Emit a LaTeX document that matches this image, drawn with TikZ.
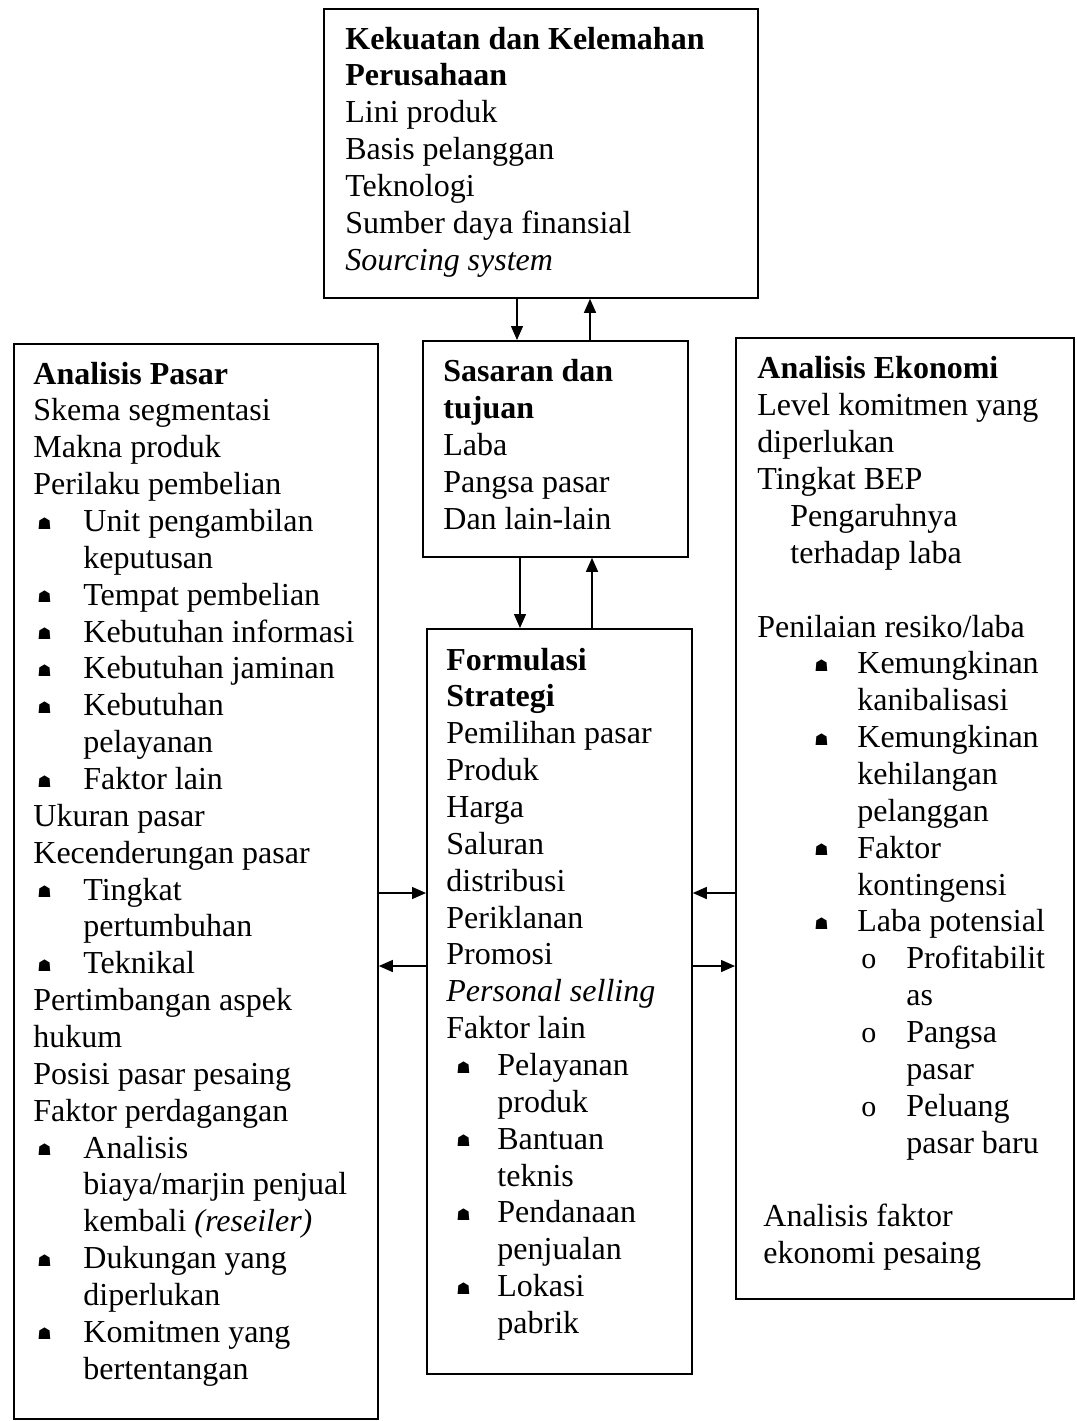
\documentclass[tikz,border=0pt]{standalone}
\usepackage{fontspec}
\setmainfont{Liberation Serif}
\newfontfamily\symfont{DejaVu Sans}
\usetikzlibrary{arrows.meta}
\newcommand\bul{\raisebox{1.2pt}{\symfont\fontsize{8}{8}\selectfont ☗}}
\newcommand\circb{{\fontsize{15}{15}\selectfont o}}
\newcommand\bl[3]{\makebox[#2][l]{\hspace*{#1}\bul}#3}
\newcommand\cl[3]{\makebox[#2][l]{\hspace*{#1}\circb}#3}
\newcommand\ind[2]{\hspace*{#1}#2}
\begin{document}
\begin{tikzpicture}[x=0.5pt,y=-0.5pt,
  box/.style={draw,line width=0.9pt,inner sep=0pt,anchor=north west},
  txt/.style={anchor=base west,inner sep=0pt,align=left,font=\fontsize{16}{18.43}\selectfont},
  arr/.style={line width=0.7pt,-{Triangle[length=7pt,width=6pt]}}]
\useasboundingbox (0,0) rectangle (1077,1421);
% boxes
\node[box,minimum width=217pt,minimum height=144.5pt] (top) at (323,8) {};
\node[box,minimum width=132.5pt,minimum height=108pt] (sas) at (422,340) {};
\node[box,minimum width=132.5pt,minimum height=372.5pt] (form) at (426,628) {};
\node[box,minimum width=182pt,minimum height=537.5pt] (left) at (13,343) {};
\node[box,minimum width=169pt,minimum height=480.5pt] (right) at (735,337) {};
% texts (anchor = baseline of last line)
\node[txt] (topT) at (345,270.2) {\textbf{Kekuatan dan Kelemahan}\\\textbf{Perusahaan}\\Lini produk\\Basis pelanggan\\Teknologi\\Sumber daya finansial\\\textit{Sourcing system}};
\node[txt] (sasT) at (443,529.4) {\textbf{Sasaran dan}\\\textbf{tujuan}\\Laba\\Pangsa pasar\\Dan lain-lain};
\node[txt] (leftT) at (33,1379.2) {\textbf{Analisis Pasar}\\Skema segmentasi\\Makna produk\\Perilaku pembelian\\
\bl{2pt}{25pt}{Unit pengambilan}\\\ind{25pt}{keputusan}\\
\bl{2pt}{25pt}{Tempat pembelian}\\\bl{2pt}{25pt}{Kebutuhan informasi}\\\bl{2pt}{25pt}{Kebutuhan jaminan}\\
\bl{2pt}{25pt}{Kebutuhan}\\\ind{25pt}{pelayanan}\\\bl{2pt}{25pt}{Faktor lain}\\
Ukuran pasar\\Kecenderungan pasar\\\bl{2pt}{25pt}{Tingkat}\\\ind{25pt}{pertumbuhan}\\\bl{2pt}{25pt}{Teknikal}\\
Pertimbangan aspek\\hukum\\Posisi pasar pesaing\\Faktor perdagangan\\
\bl{2pt}{25pt}{Analisis}\\\ind{25pt}{biaya/marjin penjual}\\\ind{25pt}{kembali \textit{(reseiler)}}\\
\bl{2pt}{25pt}{Dukungan yang}\\\ind{25pt}{diperlukan}\\\bl{2pt}{25pt}{Komitmen yang}\\\ind{25pt}{bertentangan}};
\node[txt] (formT) at (446,1333.5) {\textbf{Formulasi}\\\textbf{Strategi}\\Pemilihan pasar\\Produk\\Harga\\Saluran\\distribusi\\Periklanan\\Promosi\\\textit{Personal selling}\\Faktor lain\\
\bl{5pt}{25.5pt}{Pelayanan}\\\ind{25.5pt}{produk}\\\bl{5pt}{25.5pt}{Bantuan}\\\ind{25.5pt}{teknis}\\\bl{5pt}{25.5pt}{Pendanaan}\\\ind{25.5pt}{penjualan}\\\bl{5pt}{25.5pt}{Lokasi}\\\ind{25.5pt}{pabrik}};
\node[txt] (rightT) at (757,1263.6) {\textbf{Analisis Ekonomi}\\Level komitmen yang\\diperlukan\\Tingkat BEP\\\ind{16.5pt}{Pengaruhnya}\\\ind{16.5pt}{terhadap laba}\\[18.43pt]
Penilaian resiko/laba\\\bl{28.5pt}{50pt}{Kemungkinan}\\\ind{50pt}{kanibalisasi}\\\bl{28.5pt}{50pt}{Kemungkinan}\\\ind{50pt}{kehilangan}\\\ind{50pt}{pelanggan}\\
\bl{28.5pt}{50pt}{Faktor}\\\ind{50pt}{kontingensi}\\\bl{28.5pt}{50pt}{Laba potensial}\\
\cl{52pt}{74.5pt}{Profitabilit}\\\ind{74.5pt}{as}\\\cl{52pt}{74.5pt}{Pangsa}\\\ind{74.5pt}{pasar}\\\cl{52pt}{74.5pt}{Peluang}\\\ind{74.5pt}{pasar baru}\\[18.43pt]
\ind{3pt}{Analisis faktor}\\\ind{3pt}{ekonomi pesaing}};
% connector helper coordinates
\coordinate (xa) at (517,0);
\coordinate (xb) at (590,0);
\coordinate (xc) at (520,0);
\coordinate (xd) at (592,0);
\coordinate (ya) at (0,893);
\coordinate (yb) at (0,966);
% connectors
\draw[arr] (top.south -| xa) -- (sas.north -| xa);
\draw[arr] (sas.north -| xb) -- (top.south -| xb);
\draw[arr] (sas.south -| xc) -- (form.north -| xc);
\draw[arr] (form.north -| xd) -- (sas.south -| xd);
\draw[arr] (left.east |- ya) -- (form.west |- ya);
\draw[arr] (form.west |- yb) -- (left.east |- yb);
\draw[arr] (right.west |- ya) -- (form.east |- ya);
\draw[arr] (form.east |- yb) -- (right.west |- yb);
\end{tikzpicture}
\end{document}
